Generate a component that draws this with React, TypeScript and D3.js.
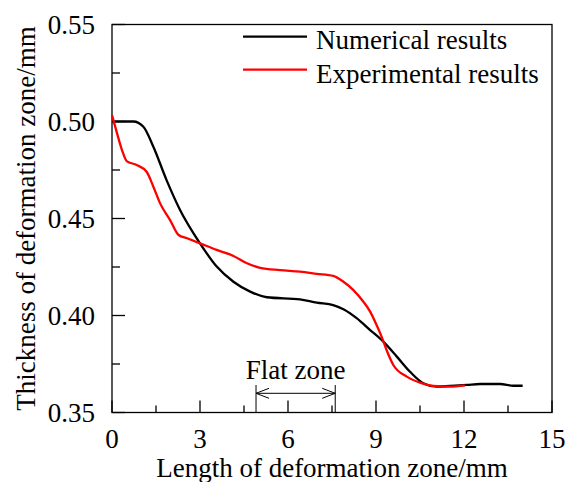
import React from 'react';
import * as d3 from 'd3';

// thickness along the deformation zone
const numX = [0, 0.73, 1.07, 1.41, 1.86, 2.32, 3.0, 3.57, 4.14, 4.71, 5.28, 6.41, 6.98, 7.54, 7.89, 8.34, 8.8, 9.25, 9.71, 10.16, 10.61, 11.07, 11.52, 12.09, 12.55, 13.23, 13.68, 14.0];
const numY = [0.5, 0.5, 0.4973, 0.487, 0.4698, 0.4544, 0.4372, 0.4252, 0.4174, 0.4123, 0.4094, 0.4083, 0.4066, 0.4054, 0.4032, 0.3986, 0.3925, 0.3865, 0.3788, 0.371, 0.3651, 0.3633, 0.3637, 0.3642, 0.3647, 0.3647, 0.3638, 0.3638];

const expX = [0, 0.17, 0.34, 0.5, 0.84, 1.18, 1.41, 1.64, 1.98, 2.27, 2.56, 3.0, 3.57, 4.14, 4.6, 5.05, 5.73, 6.41, 6.98, 7.54, 7.89, 8.23, 8.57, 8.8, 9.02, 9.19, 9.36, 9.59, 10.05, 10.5, 10.95, 11.52, 12.03];
const expY = [0.5033, 0.494, 0.4853, 0.4796, 0.4776, 0.4741, 0.4664, 0.4578, 0.4492, 0.4415, 0.4398, 0.4372, 0.4338, 0.4307, 0.4269, 0.4246, 0.4234, 0.4226, 0.4215, 0.4204, 0.4174, 0.4131, 0.4071, 0.402, 0.3951, 0.3891, 0.3822, 0.3745, 0.3685, 0.3654, 0.3637, 0.3633, 0.364];

const xTicks = [0, 3, 6, 9, 12, 15];
const xMinor = [1.5, 4.5, 7.5, 10.5, 13.5];
const yTicks = [0.35, 0.4, 0.45, 0.5, 0.55];
const yMinor = [0.375, 0.425, 0.475, 0.525];
const flatZone = [4.91, 7.61];

const legendLabels = ['Numerical results', 'Experimental results'];
const colors = ['#000000', '#ff0000'];

const font = '"Liberation Serif", "Times New Roman", serif';

export default function App() {
  const left = 112, right = 552, top = 24.5, bottom = 412.5;
  const x = d3.scaleLinear().domain([0, 15]).range([left, right]);
  const y = d3.scaleLinear().domain([0.35, 0.55]).range([bottom, top]);

  const line = d3.line<[number, number]>()
    .x(d => x(d[0]))
    .y(d => y(d[1]))
    .curve(d3.curveMonotoneX);

  const numPts = numX.map((v, i) => [v, numY[i]] as [number, number]);
  const expPts = expX.map((v, i) => [v, expY[i]] as [number, number]);

  const fx0 = x(flatZone[0]), fx1 = x(flatZone[1]);
  const ay = 393.3;

  return (
    <svg width={566} height={482} style={{ position: 'absolute', left: 0, top: 0, background: '#fff' }}
      fontFamily={font} fontSize={27}>
      <rect x={left} y={top} width={right - left} height={bottom - top} fill="none" stroke="#000" strokeWidth={1.3} />

      {xTicks.map(t => (
        <g key={'x' + t}>
          <line x1={x(t)} x2={x(t)} y1={bottom} y2={bottom - 12} stroke="#000" strokeWidth={1.3} />
          <text x={x(t)} y={448} textAnchor="middle">{t}</text>
        </g>
      ))}
      {xMinor.map(t => (
        <line key={'xm' + t} x1={x(t)} x2={x(t)} y1={bottom} y2={bottom - 7} stroke="#000" strokeWidth={1.3} />
      ))}
      {yTicks.map(t => (
        <g key={'y' + t}>
          <line x1={left} x2={left + 13} y1={y(t)} y2={y(t)} stroke="#000" strokeWidth={1.3} />
          <text x={95} y={y(t) + 9} textAnchor="end">{t.toFixed(2)}</text>
        </g>
      ))}
      {yMinor.map(t => (
        <line key={'ym' + t} x1={left} x2={left + 8} y1={y(t)} y2={y(t)} stroke="#000" strokeWidth={1.3} />
      ))}

      <path d={line(numPts) || ''} fill="none" stroke={colors[0]} strokeWidth={2.3} />
      <path d={line(expPts) || ''} fill="none" stroke={colors[1]} strokeWidth={2.3} />

      {/* flat zone marker */}
      <text x={(fx0 + fx1) / 2} y={379.3} textAnchor="middle">Flat zone</text>
      <g stroke="#000" strokeWidth={1} fill="none">
        <line x1={fx0} x2={fx0} y1={385} y2={bottom} />
        <line x1={fx1} x2={fx1} y1={385} y2={bottom} />
        <line x1={fx0} x2={fx1} y1={ay} y2={ay} />
        <polyline points={`${fx0 + 13},${ay - 5} ${fx0},${ay} ${fx0 + 13},${ay + 5}`} />
        <polyline points={`${fx1 - 13},${ay - 5} ${fx1},${ay} ${fx1 - 13},${ay + 5}`} />
      </g>

      {legendLabels.map((lab, i) => (
        <g key={lab}>
          <line x1={243} x2={307} y1={36.7 + i * 33} y2={36.7 + i * 33} stroke={colors[i]} strokeWidth={2.3} />
          <text x={316} y={49.3 + i * 33.5}>{lab}</text>
        </g>
      ))}

      <text x={(left + right) / 2} y={477} textAnchor="middle">Length of deformation zone/mm</text>
      <text transform={`translate(35,${(top + bottom) / 2}) rotate(-90)`} textAnchor="middle">Thickness of deformation zone/mm</text>
    </svg>
  );
}
